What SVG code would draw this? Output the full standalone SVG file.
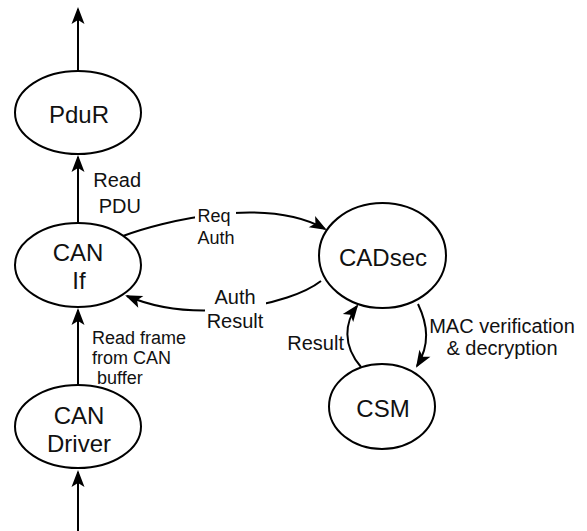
<svg xmlns="http://www.w3.org/2000/svg" width="587" height="531" viewBox="0 0 587 531">
<style>
.node ellipse{fill:#fff;stroke:#000;stroke-width:2}
.nt{font-family:"Liberation Sans",Arial,sans-serif;font-size:24px;fill:#111;text-anchor:middle}
.lb{font-family:"Liberation Sans",Arial,sans-serif;font-size:20px;fill:#111}
.sm{font-size:18px}
.edge{fill:none;stroke:#000;stroke-width:2;marker-end:url(#arr)}
.bg{fill:#fff}
</style>
<defs>
<marker id="arr" markerUnits="userSpaceOnUse" markerWidth="20" markerHeight="16" viewBox="0 -8 18 16" refX="15" refY="0" orient="auto">
<path d="M0,-6.5 L17,0 L0,6.5 L4,0 Z" fill="#000"/>
</marker>
</defs>
<rect width="587" height="531" fill="#fff"/>
<g id="connectors">
<path class="edge" d="M78 71 L78 9"/>
<path class="edge" d="M78 223 L78 157"/>
<path class="edge" d="M78 385 L78 310"/>
<path class="edge" d="M78 531 L78 472"/>
<path class="edge" d="M123 236 C160 222 265 195 325 229"/>
<path class="edge" d="M321 281 C290 305 195 325 127 296"/>
<path class="edge" d="M361 367 C342 345 345 322 357 306"/>
<path class="edge" d="M418 304 C428 325 430 345 417 366"/>
</g>
<g id="labels">
<text class="lb" text-anchor="end" x="141" y="187">Read</text>
<text class="lb" text-anchor="end" x="141" y="212.5">PDU</text>
<rect class="bg" x="195" y="207" width="41" height="40"/>
<text class="lb sm" text-anchor="middle" x="214" y="222">Req</text>
<text class="lb sm" text-anchor="middle" x="216" y="244">Auth</text>
<rect class="bg" x="205" y="287" width="61" height="44"/>
<text class="lb" text-anchor="middle" x="235" y="303.5">Auth</text>
<text class="lb" text-anchor="middle" x="235" y="327.5">Result</text>
<text class="lb sm" x="92" y="343.5">Read frame</text>
<text class="lb sm" x="92" y="364">from CAN</text>
<text class="lb sm" x="97" y="383.5">buffer</text>
<text class="lb" text-anchor="end" x="344" y="349.5">Result</text>
<text class="lb" text-anchor="middle" x="502" y="332.5">MAC verification</text>
<text class="lb" text-anchor="middle" x="502" y="355">&amp; decryption</text>
</g>
<g id="PduR" class="node">
<ellipse cx="78" cy="112.5" rx="63" ry="41.5"/>
<text class="nt" x="79" y="123">PduR</text>
</g>
<g id="CANIf" class="node">
<ellipse cx="78" cy="265" rx="63" ry="42"/>
<text class="nt" x="78" y="261">CAN</text>
<text class="nt" x="79" y="289">If</text>
</g>
<g id="CANDriver" class="node">
<ellipse cx="78" cy="426.5" rx="63" ry="41.5"/>
<text class="nt" x="79" y="423.5">CAN</text>
<text class="nt" x="79" y="451.5">Driver</text>
</g>
<g id="CADsec" class="node">
<ellipse cx="382.5" cy="255.5" rx="63.5" ry="52.5"/>
<text class="nt" x="383" y="266">CADsec</text>
</g>
<g id="CSM" class="node">
<ellipse cx="382" cy="406.5" rx="53" ry="42.5"/>
<text class="nt" x="383" y="416.5">CSM</text>
</g>
</svg>
